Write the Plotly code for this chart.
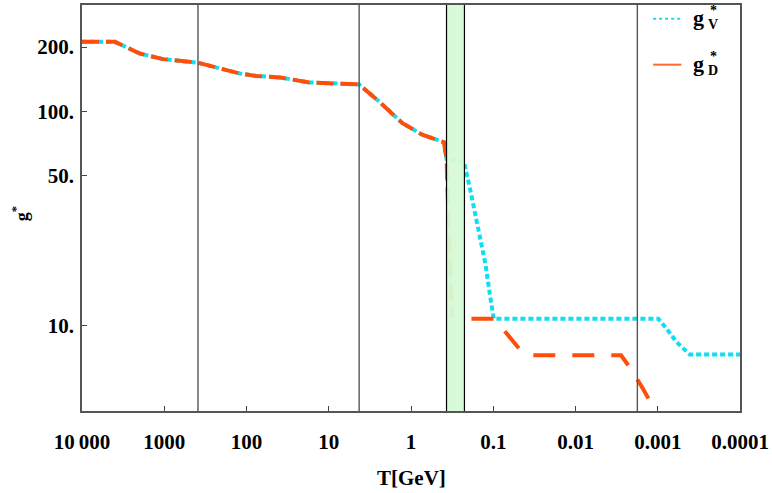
import plotly.graph_objects as go

# ---- data ----
# shared part (g*_V and g*_D coincide), T in GeV
T_shared = [10000, 3980, 1980, 1033, 389, 212, 121.6, 76.4, 39.8, 17.2, 4.27, 2.44, 1.27, 0.73, 0.398, 0.37]
g_shared = [211.7, 211.7, 186.7, 175.8, 169.0, 159.0, 150.7, 146.6, 144.4, 136.8, 133.9, 111.3, 88.2, 77.9, 71.9, 60.0]

# g*_V below the QCD transition
T_V_low = [0.37, 0.228, 0.189, 0.150, 0.1245, 0.110, 0.0986, 0.000986, 0.000781, 0.000591, 0.000407, 0.0001]
g_V_low = [60.0, 58.5, 42.5, 27.7, 19.4, 14.0, 10.75, 10.75, 9.66, 8.36, 7.31, 7.31]

# g*_D below the QCD transition
T_D_band = [0.37, 0.318]
g_D_band = [60.0, 10.9]
T_D_low = [0.184, 0.0986, 0.0711, 0.0448, 0.037, 0.00279, 0.00215, 0.0015, 0.00107, 0.00072]
g_D_low = [10.75, 10.75, 9.31, 7.52, 7.25, 7.25, 6.31, 5.03, 3.98, 3.05]

# vertical marker lines and the shaded QCD band (GeV)
v_lines = [389, 4.27, 0.00177]
band = [0.37, 0.224]

x_ticks = [1e4, 1e3, 1e2, 1e1, 1, 0.1, 0.01, 0.001, 0.0001]
x_text = ["10\u2009000", "1000", "100", "10", "1", "0.1", "0.01", "0.001", "0.0001"]
y_ticks = [10, 50, 100, 200]
y_text = ["10.", "50.", "100.", "200."]

legend_subs = ["V", "D"]

CYAN = "#10DDF2"
ORANGE = "#FF4E0A"
FONT = "Liberation Serif"

fig = go.Figure()

gV_T = T_shared + T_V_low[1:]
gV_g = g_shared + g_V_low[1:]
fig.add_trace(go.Scatter(x=gV_T, y=gV_g, mode="lines", showlegend=False, name="g*V",
                         line=dict(color=CYAN, width=4, dash="5px,3px")))
fig.add_trace(go.Scatter(x=T_shared + T_D_band[1:], y=g_shared + g_D_band[1:], mode="lines",
                         showlegend=False, name="g*D",
                         line=dict(color=ORANGE, width=4, dash="17px,7px")))
fig.add_trace(go.Scatter(x=T_D_low, y=g_D_low, mode="lines", showlegend=False, name="g*D",
                         line=dict(color=ORANGE, width=4, dash="22px,17px")))

# shaded band
fig.add_vrect(x0=band[0], x1=band[1], fillcolor="#D6FAD6", opacity=0.95,
              line_width=0, layer="above")
for b in band:
    fig.add_vline(x=b, line=dict(color="black", width=1.2), layer="above")
for v in v_lines:
    fig.add_vline(x=v, line=dict(color="#555555", width=1.4), layer="above")

fig.update_xaxes(type="log", range=[4, -4], tickvals=x_ticks, ticktext=x_text,
                 ticks="inside", ticklen=5, tickcolor="#444", tickwidth=1.2,
                 showline=True, linecolor="#555", linewidth=1.5, mirror=True,
                 showgrid=False, zeroline=False, ticklabelstandoff=11,
                 tickfont=dict(family=FONT, size=21, color="black", weight="bold"))
fig.update_yaxes(type="log", range=[0.6, 2.498], tickvals=y_ticks, ticktext=y_text,
                 ticks="inside", ticklen=5, tickcolor="#444", tickwidth=1.2,
                 showline=True, linecolor="#555", linewidth=1.5, mirror=True,
                 showgrid=False, zeroline=False, ticklabelstandoff=2,
                 tickfont=dict(family=FONT, size=21, color="black", weight="bold"))

fig.add_annotation(text="<b>T[GeV]</b>", xref="paper", yref="paper", x=0.5, y=-0.164,
                   xanchor="center", yanchor="middle", showarrow=False,
                   font=dict(family=FONT, size=21, color="black"))
fig.add_annotation(text="<b>g<sup>*</sup></b>", xref="paper", yref="paper", x=-0.094, y=0.485,
                   xanchor="center", yanchor="middle", showarrow=False, textangle=-90,
                   font=dict(family=FONT, size=18, color="black"))

# legend (stacked superscript/subscript like the reference)
leg_y = [0.966, 0.853]
leg_line = [dict(color=CYAN, width=2, dash="3px,3px"), dict(color="#FF6A30", width=2)]
for yy, ln, sub in zip(leg_y, leg_line, legend_subs):
    fig.add_shape(type="line", xref="paper", yref="paper", x0=0.868, x1=0.911, y0=yy, y1=yy,
                  line=ln)
    fig.add_annotation(text="<b>g</b>", xref="paper", yref="paper", x=0.925, y=yy + 0.004,
                       xanchor="left", yanchor="middle", showarrow=False,
                       font=dict(family=FONT, size=22, color="black"))
    fig.add_annotation(text="<b>*</b>", xref="paper", yref="paper", x=0.951, y=yy + 0.02,
                       xanchor="left", yanchor="middle", showarrow=False,
                       font=dict(family=FONT, size=14, color="black"))
    fig.add_annotation(text="<b>%s</b>" % sub, xref="paper", yref="paper", x=0.948, y=yy - 0.014,
                       xanchor="left", yanchor="middle", showarrow=False,
                       font=dict(family=FONT, size=14, color="black"))

fig.update_layout(
    width=772, height=493,
    margin=dict(l=82, r=30, t=3, b=82),
    paper_bgcolor="white", plot_bgcolor="white",
    showlegend=False,
)

fig.write_html("out.html", config={"displayModeBar": False},
               post_script="document.body.style.margin='0';document.body.style.overflow='hidden';")
